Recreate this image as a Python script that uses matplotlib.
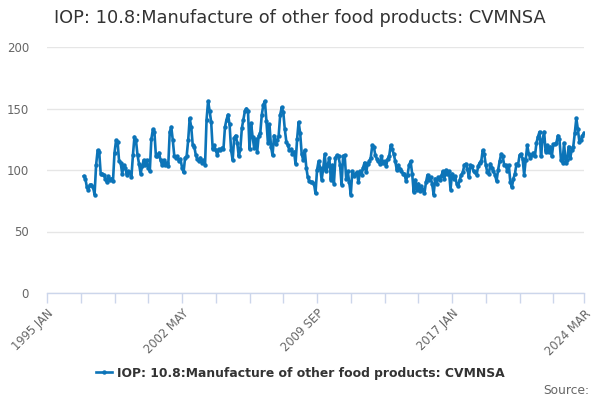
import matplotlib
matplotlib.use("Agg")
import matplotlib.pyplot as plt
import numpy as np

MONTHS = ["JAN", "FEB", "MAR", "APR", "MAY", "JUN", "JUL", "AUG", "SEP", "OCT", "NOV", "DEC"]
first_year, last_year, last_month = 1995, 2024, 3
categories = [f"{y} {m}" for y in range(first_year, last_year + 1) for m in MONTHS]
categories = categories[:len(categories) - (12 - last_month)]

series_name = "IOP: 10.8:Manufacture of other food products: CVMNSA"
series_start = "1997 JAN"
values = [
    # 1997
    95, 93, 86, 84, 88, 88, 86, 80, 104, 116, 115, 97,
    # 1998
    97, 96, 93, 90, 95, 92, 93, 91, 114, 124, 123, 107,
    # 1999
    106, 97, 104, 102, 96, 99, 98, 94, 112, 127, 124, 112,
    # 2000
    105, 97, 103, 108, 104, 108, 102, 99, 125, 133, 131, 111,
    # 2001
    111, 114, 108, 104, 108, 104, 106, 103, 131, 135, 124, 111,
    # 2002
    110, 111, 107, 109, 102, 98, 110, 111, 124, 142, 135, 120,
    # 2003
    119, 112, 109, 107, 110, 106, 108, 104, 141, 156, 148, 139,
    # 2004
    117, 120, 116, 112, 117, 116, 118, 117, 135, 141, 145, 137,
    # 2005
    116, 108, 126, 128, 122, 111, 117, 134, 141, 148, 150, 148,
    # 2006
    117, 138, 127, 118, 125, 115, 128, 130, 145, 153, 156, 140,
    # 2007
    122, 137, 119, 112, 128, 121, 124, 128, 145, 151, 147, 133,
    # 2008
    123, 120, 116, 117, 113, 115, 105, 125, 139, 130, 113, 108,
    # 2009
    116, 102, 94, 91, 90, 90, 89, 81, 100, 107, 102, 92,
    # 2010
    101, 113, 99, 104, 110, 92, 104, 89, 110, 112, 111, 104,
    # 2011
    88, 111, 112, 93, 99, 90, 80, 99, 95, 97, 98, 90,
    # 2012
    99, 96, 102, 106, 98, 105, 107, 110, 120, 119, 112, 109,
    # 2013
    107, 105, 111, 106, 107, 103, 109, 111, 120, 117, 113, 107,
    # 2014
    100, 104, 101, 99, 97, 97, 91, 96, 104, 107, 97, 82,
    # 2015
    92, 84, 89, 83, 87, 84, 81, 90, 96, 92, 94, 89,
    # 2016
    80, 93, 89, 94, 92, 95, 99, 93, 100, 97, 99, 84,
    # 2017
    97, 93, 95, 89, 87, 92, 96, 98, 104, 105, 101, 94,
    # 2018
    104, 103, 99, 98, 96, 103, 106, 107, 116, 113, 104, 98,
    # 2019
    97, 105, 102, 99, 96, 91, 100, 107, 113, 111, 104, 104,
    # 2020
    99, 104, 90, 86, 93, 97, 105, 104, 112, 113, 109, 96,
    # 2021
    108, 120, 113, 110, 112, 114, 111, 122, 127, 131, 111, 125,
    # 2022
    131, 115, 120, 115, 119, 111, 121, 121, 122, 128, 125, 108,
    # 2023
    106, 122, 106, 108, 119, 110, 116, 119, 130, 142, 133, 123,
    # 2024
    124, 128, 130,
]

y_ticks = [0, 50, 100, 150, 200]
tick_step = 22
label_every = 4

start_idx = categories.index(series_start)
x = np.arange(start_idx, start_idx + len(values))

fig = plt.figure(figsize=(6, 4), dpi=100)
ax = fig.add_axes([47 / 600, 1 - 293 / 400, (584 - 47) / 600, (293 - 47) / 400])

line_color = "#0c74b8"
ax.plot(x, values, color=line_color, lw=1.9, marker="o", ms=3.2,
        markeredgewidth=0, label=series_name, zorder=3)

ax.set_xlim(0, len(categories) - 1)
ax.set_ylim(0, 200)
ax.set_yticks(y_ticks)
ax.grid(axis="y", color="#e6e6e6", lw=1)
ax.set_axisbelow(True)

tick_pos = list(range(0, len(categories), tick_step))
if tick_pos[-1] != len(categories) - 1:
    tick_pos.append(len(categories) - 1)
tick_lbl = []
for k, p in enumerate(tick_pos):
    if k % label_every == 0 or p == len(categories) - 1:
        tick_lbl.append(categories[p])
    else:
        tick_lbl.append("")
ax.set_xticks(tick_pos)
ax.set_xticklabels(tick_lbl, rotation=45, ha="right", va="top",
                   rotation_mode="anchor", fontsize=8.3, color="#666666")
ax.tick_params(axis="x", length=7, color="#ccd6eb", width=1, pad=3)
ax.tick_params(axis="y", length=0, labelsize=8.5, labelcolor="#666666", pad=13)

for s in ["top", "right", "left"]:
    ax.spines[s].set_visible(False)
ax.spines["bottom"].set_color("#ccd6eb")
ax.spines["bottom"].set_linewidth(1)

fig.text(0.5, 1 - 18 / 400, series_name, ha="center", va="center",
         fontsize=12.8, color="#333333")

leg = fig.legend(loc="center", bbox_to_anchor=(0.5, 1 - 373 / 400), frameon=False,
                 prop={"weight": "bold", "size": 8.9}, handlelength=1.3,
                 handletextpad=0.4, labelcolor="#333333")
fig.text(0.982, 1 - 390 / 400, "Source:", ha="right", va="center",
         fontsize=8.8, color="#666666")

fig.savefig("out.png", dpi=100)
